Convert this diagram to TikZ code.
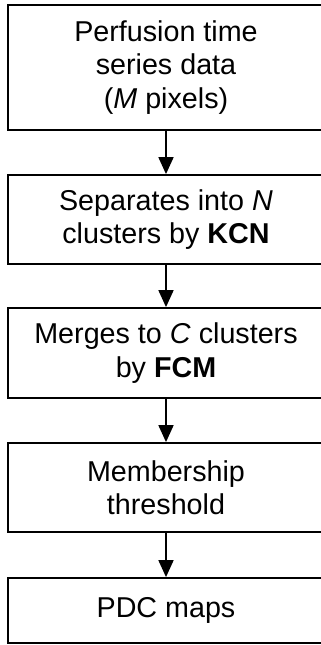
\documentclass[tikz,border=0pt]{standalone}
\usepackage{fontspec}
\setmainfont{Liberation Sans}
\usetikzlibrary{arrows.meta}
\begin{document}
\begin{tikzpicture}[x=1pt,y=-1pt,
  stepbox/.style={draw=black,line width=1.8pt,minimum width=316pt,inner sep=0pt,align=center,
    font=\fontsize{28.7}{33.5}\selectfont},
  flow/.style={line width=1.8pt,-{Triangle[width=15pt,length=17pt]}}]
\useasboundingbox (0,0) rectangle (321,645);
\clip (0,0) rectangle (321,645);
\node[stepbox,minimum height=125pt] (b1) at (166,67.5) {Perfusion time\\series data\\(\textit{M} pixels)};
\node[stepbox,minimum height=89pt] (b2) at (166,219.5) {Separates into \textit{N}\\clusters by \textbf{KCN}};
\node[stepbox,minimum height=90pt] (b3) at (166,353) {Merges to \textit{C} clusters\\by \textbf{FCM}};
\node[stepbox,minimum height=89pt] (b4) at (166,487.5) {Membership\\threshold};
\node[stepbox,minimum height=65pt] (b5) at (166,610.5) {PDC maps};
\draw[flow] (b1) -- (b2);
\draw[flow] (b2) -- (b3);
\draw[flow] (b3) -- (b4);
\draw[flow] (b4) -- (b5);
\end{tikzpicture}
\end{document}
